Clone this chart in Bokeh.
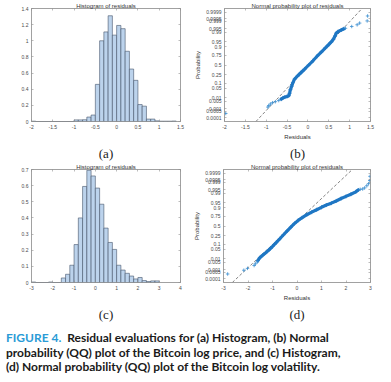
from statistics import NormalDist
import numpy as np
from bokeh.plotting import figure
from bokeh.layouts import column, row
from bokeh.models import (Range1d, FixedTicker, LinearAxis, NumeralTickFormatter,
                          CustomJSTickFormatter, Title, Div)
from bokeh.embed import file_html
from bokeh.resources import INLINE

# ---------------- data ----------------
# (a) histogram of residuals, log price: bins of width 0.1 starting at -2.0
a_bin_start = -2.0
a_bin_width = 0.1
a_density = [0.004, 0, 0, 0, 0, 0, 0, 0, 0, 0,
             0.02, 0.02, 0.022, 0.055, 0.08,
             0.46, 1.00, 1.11, 1.31, 1.07,
             1.19, 1.15, 0.87, 0.65, 0.51, 0.21, 0.19, 0.03, 0.03, 0.008,
             0.004, 0.004, 0.004, 0.006]
a_xticks = [-2, -1.5, -1, -0.5, 0, 0.5, 1, 1.5]
a_yticks = [0, 0.2, 0.4, 0.6, 0.8, 1, 1.2, 1.4]

# (c) histogram of residuals, log volatility: bins of width 0.2 starting at -3.0
c_bin_start = -3.0
c_bin_width = 0.2
c_density = [0.003, 0, 0, 0, 0.003, 0, 0,
             0.028, 0.051, 0.107, 0.235, 0.40, 0.595, 0.695, 0.66,
             0.585, 0.485, 0.337, 0.248, 0.205, 0.107, 0.077, 0.057, 0.040,
             0.022, 0.031, 0.012, 0.006, 0.010, 0.010]
c_xticks = [-3, -2, -1, 0, 1, 2, 3, 4]
c_yticks = [0, 0.1, 0.2, 0.3, 0.4, 0.5, 0.6, 0.7]

# probability axis ticks of the normal probability plots
prob_ticks = [0.0001, 0.0005, 0.001, 0.005, 0.01, 0.05, 0.1, 0.25, 0.5,
              0.75, 0.9, 0.95, 0.99, 0.995, 0.999, 0.9995, 0.9999]
prob_labels = ["0.0001", "0.0005", "0.001", "0.005", "0.01", "0.05", "0.1", "0.25", "0.5",
               "0.75", "0.9", "0.95", "0.99", "0.995", "0.999", "0.9995", "0.9999"]

# (b) normal probability plot, log price residuals
b_tail_lo_x = [-1.97, -0.96, -0.94, -0.90, -0.85, -0.78, -0.70]
b_tail_lo_p = [0.0003, 0.00144, 0.0020, 0.0029, 0.0038, 0.0047, 0.0059]
b_body_x = [-0.64, -0.60, -0.55, -0.50, -0.46, -0.44, -0.42, -0.39, -0.36, -0.32,
            -0.25, -0.17, -0.08, 0.02, 0.12, 0.22, 0.32, 0.42, 0.50, 0.56,
            0.61, 0.65, 0.68, 0.72, 0.80, 0.86]
b_body_p = [0.0078, 0.0099, 0.0116, 0.0129, 0.0150, 0.0228, 0.0401, 0.0668, 0.1056, 0.1587,
            0.2177, 0.2912, 0.3821, 0.5, 0.6179, 0.7324, 0.8212, 0.8888, 0.9265, 0.9484,
            0.9656, 0.9798, 0.9878, 0.9909, 0.9934, 0.9948]
b_tail_hi_x = [0.90, 1.05, 1.18, 1.24, 1.42, 1.43]
b_tail_hi_p = [0.9953, 0.9968, 0.9978, 0.9985, 0.9991, 0.99974]
b_ref_x = [-1.247, 1.297]          # dashed reference line at the y limits
b_xticks = [-2, -1.5, -1, -0.5, 0, 0.5, 1, 1.5]

# (d) normal probability plot, log volatility residuals
d_tail_lo_x = [-2.83, -2.17, -2.02, -1.75, -1.70, -1.62]
d_tail_lo_p = [0.00034, 0.00087, 0.00135, 0.00256, 0.00368, 0.00539]
d_body_x = [-1.60, -1.52, -1.40, -1.28, -1.15, -1.00, -0.85, -0.70, -0.55, -0.40,
            -0.25, -0.10, 0.05, 0.20, 0.40, 0.60, 0.80, 1.00, 1.20, 1.40,
            1.60, 1.80, 2.00, 2.20, 2.40, 2.50]
d_body_p = [0.00714, 0.0122, 0.0192, 0.0287, 0.0446, 0.0735, 0.119, 0.184, 0.268, 0.363,
            0.468, 0.571, 0.655, 0.719, 0.788, 0.836, 0.875, 0.907, 0.931, 0.947,
            0.962, 0.974, 0.982, 0.9878, 0.9922, 0.9946]
d_tail_hi_x = [2.58, 2.68, 2.76, 2.85, 2.92, 2.97, 2.98]
d_tail_hi_p = [0.9953, 0.9956, 0.9965, 0.9978, 0.99865, 0.99936, 0.99978]
d_ref_x = [-2.64, 2.26]
d_xticks = [-3, -2, -1, 0, 1, 2, 3]

z_limit = 4.0  # probit limits of the probability axes

# ---------------- styling ----------------
FONT = "Liberation Sans"
AX = "#8f8f8f"
TXT = "#4a4a4a"
BAR_FILL = "#bcd3ec"
BAR_LINE = "#44546a"
DOT = "#1f77c4"
nd = NormalDist()


def probit(ps):
    return [nd.inv_cdf(p) for p in ps]


def style_axis(ax, ticks, fmt=None, labels=True):
    ax.ticker = FixedTicker(ticks=ticks)
    ax.axis_line_color = AX
    ax.axis_line_width = 0.6
    ax.major_tick_line_color = AX
    ax.major_tick_line_width = 0.6
    ax.major_tick_in = 2
    ax.major_tick_out = 0
    ax.minor_tick_line_color = None
    ax.major_label_text_font = FONT
    ax.major_label_text_font_size = "5px"
    ax.major_label_text_color = TXT
    ax.major_label_standoff = 3
    if labels:
        if fmt is not None:
            ax.formatter = fmt
    else:
        ax.formatter = CustomJSTickFormatter(code="return ''")
        ax.major_label_standoff = 0


def label_style(ax):
    ax.axis_label_text_font = FONT
    ax.axis_label_text_font_size = "6px"
    ax.axis_label_text_font_style = "normal"
    ax.axis_label_text_color = "#333333"
    ax.axis_label_standoff = 2


def make_fig(fw, fh, xr, yr, left, right, title, xt, yt, yfmt):
    p = figure(frame_width=fw, frame_height=fh, x_range=Range1d(*xr), y_range=Range1d(*yr),
               output_backend="svg", toolbar_location=None, title=title,
               min_border_left=left, min_border_right=right,
               min_border_top=8, min_border_bottom=10)
    p.title.text_font = FONT
    p.title.text_font_size = "6px"
    p.title.text_font_style = "normal"
    p.title.text_color = "#333333"
    p.title.align = "center"
    p.title.standoff = 0
    p.grid.visible = False
    p.outline_line_color = AX
    p.outline_line_width = 0.6
    p.background_fill_color = "white"
    p.border_fill_color = "white"
    bottom_ax = p.below[0]
    left_ax = p.left[0]
    style_axis(bottom_ax, xt, NumeralTickFormatter(format="0.[0]"))
    style_axis(left_ax, yt, yfmt)
    # keep the same space under every panel so that the panel letters line up
    bottom_ax.axis_label = " "
    label_style(bottom_ax)
    top_ax = LinearAxis()
    style_axis(top_ax, xt, labels=False)
    p.add_layout(top_ax, "above")
    right_ax = LinearAxis()
    style_axis(right_ax, yt, labels=False)
    p.add_layout(right_ax, "right")
    return p, bottom_ax, left_ax


def add_panel_label(p, text):
    p.add_layout(Title(text=text, align="center", text_font="Liberation Serif",
                       text_font_size="13px", text_font_style="normal",
                       text_color="#222222", standoff=2), "below")


def histogram(p, start, width, dens):
    left = start + width * np.arange(len(dens))
    p.quad(left=left, right=left + width, bottom=0, top=dens,
           fill_color=BAR_FILL, line_color=BAR_LINE, line_width=0.6)


prob_fmt = CustomJSTickFormatter(args=dict(labels=prob_labels), code="return labels[index]")
prob_z = probit(prob_ticks)


def probplot(p, xax, yax, lo_x, lo_p, body_x, body_p, hi_x, hi_p, ref_x):
    p.line(ref_x, [-z_limit, z_limit], line_color="#333333", line_width=0.6, line_dash="3 2")
    p.line(body_x, probit(body_p), line_color=DOT, line_width=3.2,
           line_join="round", line_cap="round")
    p.scatter(body_x, probit(body_p), marker="cross", size=4, line_color=DOT, line_width=0.8)
    p.scatter(lo_x, probit(lo_p), marker="cross", size=3.5, line_color="#3a8ed0", line_width=0.8)
    p.scatter(hi_x, probit(hi_p), marker="cross", size=3.5, line_color="#3a8ed0", line_width=0.8)
    xax.axis_label = "Residuals"
    yax.axis_label = "Probability"
    label_style(yax)


FH = 113

# (a)
fa, _, _ = make_fig(149, FH, (-2, 1.5), (0, 1.4), 31, 9, "Histogram of residuals",
                    a_xticks, a_yticks, NumeralTickFormatter(format="0.[0]"))
histogram(fa, a_bin_start, a_bin_width, a_density)
add_panel_label(fa, "(a)")

# (b)
fb, bx, by = make_fig(146, FH, (-2, 1.5), (-z_limit, z_limit), 35, 5,
                      "Normal probability plot of residuals", b_xticks, prob_z, prob_fmt)
probplot(fb, bx, by, b_tail_lo_x, b_tail_lo_p, b_body_x, b_body_p, b_tail_hi_x, b_tail_hi_p, b_ref_x)
add_panel_label(fb, "(b)")

# (c)
fc, _, _ = make_fig(149, FH, (-3, 4), (0, 0.7), 31, 9, "Histogram of residuals",
                    c_xticks, c_yticks, NumeralTickFormatter(format="0.[0]"))
histogram(fc, c_bin_start, c_bin_width, c_density)
add_panel_label(fc, "(c)")

# (d)
fd, dx, dy = make_fig(147, FH, (-3, 3), (-z_limit, z_limit), 34, 5,
                      "Normal probability plot of residuals", d_xticks, prob_z, prob_fmt)
probplot(fd, dx, dy, d_tail_lo_x, d_tail_lo_p, d_body_x, d_body_p, d_tail_hi_x, d_tail_hi_p, d_ref_x)
add_panel_label(fd, "(d)")

caption_html = (
    "<div style=\"font-family:Lato; font-weight:700; font-size:12px; line-height:14.5px; "
    "color:#1a1a1a; white-space:nowrap; padding-top:4px; padding-left:1px;\">"
    "<span style=\"color:#2a9bd6\">FIGURE 4.</span>&nbsp; Residual evaluations for (a) Histogram, (b) Normal<br>"
    "probability (QQ) plot of the Bitcoin log price, and (c) Histogram,<br>"
    "(d) Normal probability (QQ) plot of the Bitcoin log volatility.</div>"
)
caption = Div(text=caption_html, width=375, height=48)

layout = column(row(fa, fb), row(fc, fd), caption)

open("out.html", "w").write(file_html(layout, INLINE))
